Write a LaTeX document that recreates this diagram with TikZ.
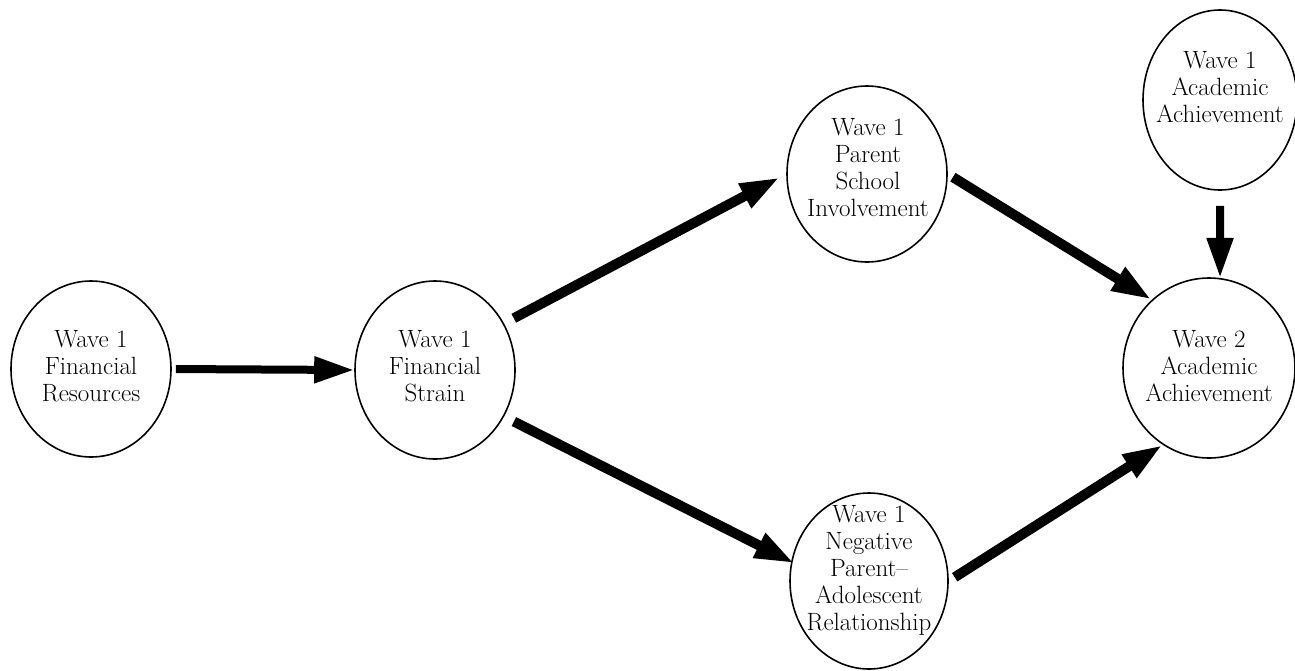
\documentclass[tikz,border=0pt]{standalone}
\usetikzlibrary{shapes.geometric,arrows.meta}
\tikzset{
  oval/.style={ellipse, draw, line width=1.6pt, inner sep=0pt},
  lbl/.style={align=center, font=\fontsize{25}{27}\selectfont, inner sep=0pt},
  arr/.style={line width=10pt, -{Triangle[length=40pt,width=25pt]}},
}
\begin{document}
\begin{tikzpicture}[x=1pt,y=-1pt]
\useasboundingbox (0,0) rectangle (1295,670);
% ellipses
\node[oval, minimum width=160pt, minimum height=176pt] (res) at (91,369) {};
\node[oval, minimum width=160pt, minimum height=178pt] (strain) at (435,370) {};
\node[oval, minimum width=160pt, minimum height=176pt] (parent) at (867,174) {};
\node[oval, minimum width=158pt, minimum height=176pt] (neg) at (869,581) {};
\node[oval, minimum width=154pt, minimum height=180pt] (w1aa) at (1220,100) {};
\node[oval, minimum width=172pt, minimum height=180pt] (w2) at (1209,368) {};
% labels
\node[lbl] (resT) at (91,366) {Wave 1\\Financial\\Resources};
\node[lbl] (strainT) at (435,366) {Wave 1\\Financial\\Strain};
\node[lbl] (parentT) at (868,168) {Wave 1\\Parent\\School\\Involvement};
\node[lbl] (negT) at (869,570) {Wave 1\\Negative\\Parent--\\Adolescent\\Relationship};
\node[lbl] (w1aaT) at (1220,87) {Wave 1\\Academic\\Achievement};
\node[lbl] (w2T) at (1209,366) {Wave 2\\Academic\\Achievement};
% arrows
\draw[arr, line width=8pt, shorten <=4pt] (res.east) -- (strain.west);
\draw[arr, shorten <=11pt, shorten >=7pt] (strain.34.5) -- (parent.west);
\draw[arr, shorten <=11pt, shorten >=-4pt] (strain.-34.5) -- (neg.166.5);
\draw[arr, shorten <=6pt] (parent.east) -- (w2.130.6);
\draw[arr, shorten <=7pt] (neg.east) -- (w2.239.3);
\draw[arr, line width=8pt, shorten <=15pt] (w1aa.south) -- (w2.83);
\end{tikzpicture}
\end{document}
